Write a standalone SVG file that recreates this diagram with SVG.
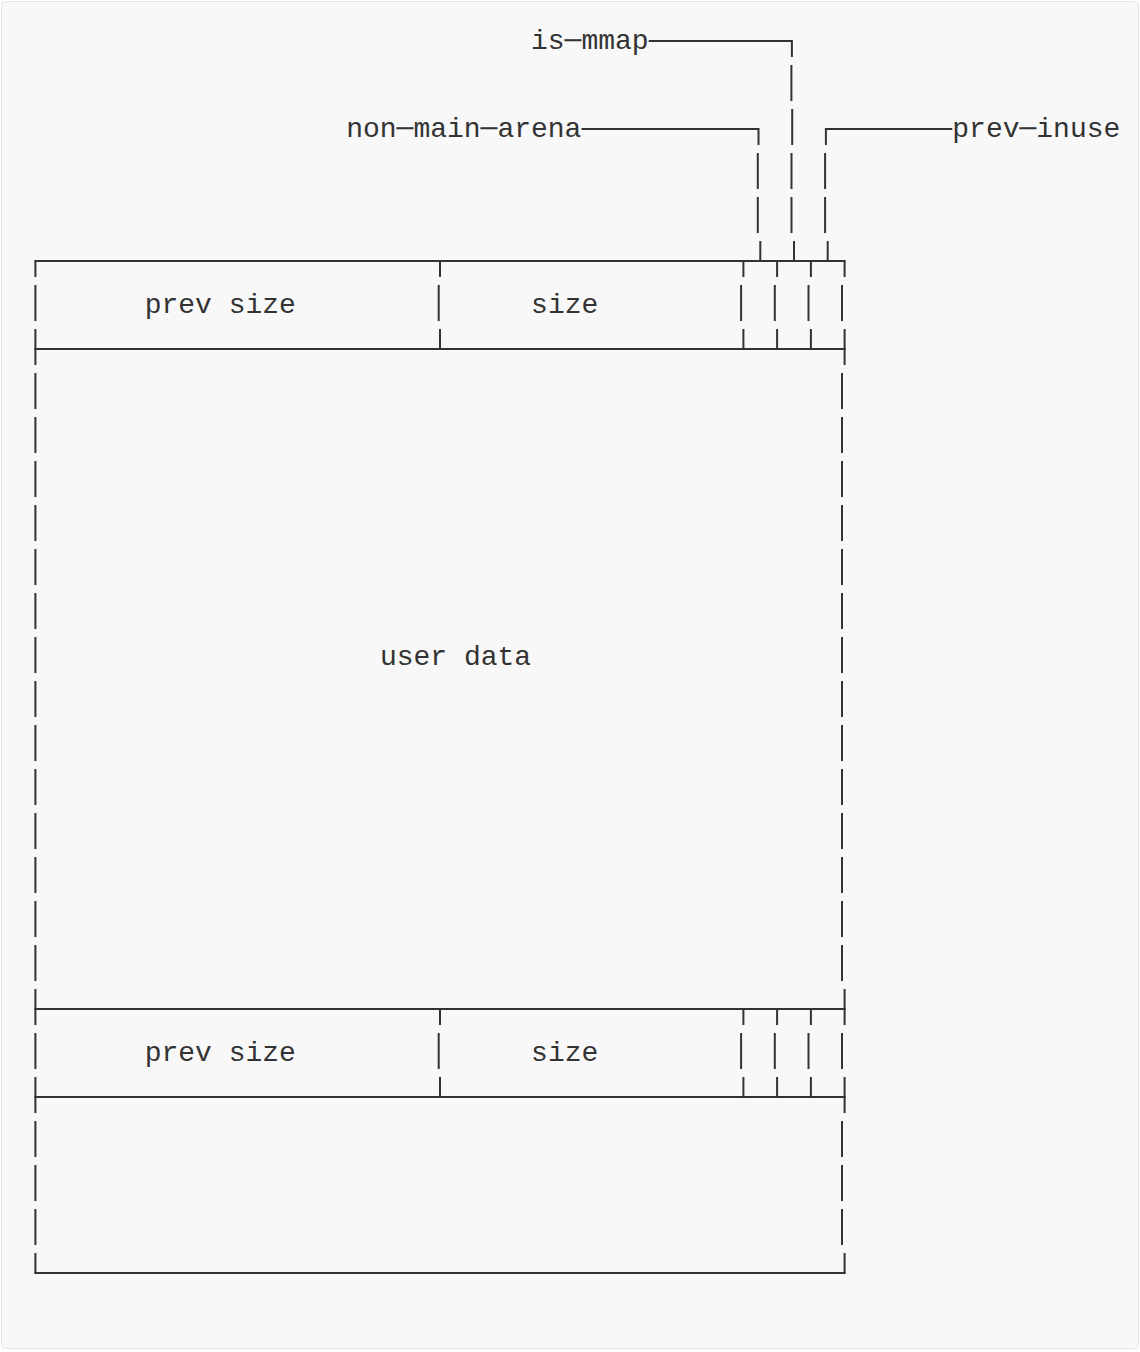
<svg xmlns="http://www.w3.org/2000/svg" width="1140" height="1352" viewBox="0 0 1140 1352">
<style>
.ln{fill:none;stroke:#333;stroke-width:2;stroke-linejoin:miter}
.h{stroke-linecap:square}
.d{stroke-dasharray:36 8}
.t{font-family:"Liberation Mono","DejaVu Sans Mono",monospace;font-size:28px;fill:#333}
</style>
<rect x="1.5" y="1.5" width="1137" height="1347" rx="4" fill="#f8f8f8" stroke="#e4e4e4" stroke-width="1"/>
<g id="chunk-frame">
  <path class="ln h" d="M35.4 261H844.6M35.4 349H844.6M35.4 1009H844.6M35.4 1097H844.6M35.4 1273H844.6"/>
  <path class="ln" d="M35.4 261V1273" style="stroke-dasharray:36 8;stroke-dashoffset:20"/>
  <path class="ln" d="M844.6 261V277M844.6 329V365M844.6 989V1025M844.6 1077V1113M844.6 1253V1273M842 285V321M842 1033V1069"/>
  <path class="ln d" d="M842 373V981M842 1121V1245"/>
  <path class="ln" d="M440 261V277M440 329V349M440 1009V1025M440 1077V1097M438.7 285V321M438.7 1033V1069"/>
  <path class="ln" d="M743.4 261V277M743.4 329V349M743.4 1009V1025M743.4 1077V1097M741.1 285V321M741.1 1033V1069"/>
  <path class="ln" d="M777.1 261V277M777.1 329V349M777.1 1009V1025M777.1 1077V1097M774.8 285V321M774.8 1033V1069"/>
  <path class="ln" d="M810.9 261V277M810.9 329V349M810.9 1009V1025M810.9 1077V1097M808.5 285V321M808.5 1033V1069"/>
</g>
<g id="header-1">
  <text class="t" x="144.7" y="313">prev size</text>
  <text class="t" x="531.1" y="313">size</text>
</g>
<g id="user-data">
  <text class="t" x="379.9" y="665">user data</text>
</g>
<g id="header-2">
  <text class="t" x="144.7" y="1061">prev size</text>
  <text class="t" x="531.1" y="1061">size</text>
</g>
<g id="label-is-mmap">
  <text class="t" x="531" y="49">is─mmap</text>
</g>
<g id="label-non-main-arena">
  <text class="t" x="346.2" y="137">non─main─arena</text>
</g>
<g id="label-prev-inuse">
  <text class="t" x="952.3" y="137">prev─inuse</text>
</g>
<g id="connectors">
  <path class="ln" d="M648.7 41H791.9V57M791.4 65V101M792.2 109V145M791.5 153V189M791.5 197V233M794 241V261"/>
  <path class="ln" d="M581.5 129H758.5V145M757.8 153V189M757.8 197V233M760.3 241V261"/>
  <path class="ln" d="M952.3 129H825.9V145M825.1 153V189M825.1 197V233M827.7 241V261"/>
</g>
</svg>
